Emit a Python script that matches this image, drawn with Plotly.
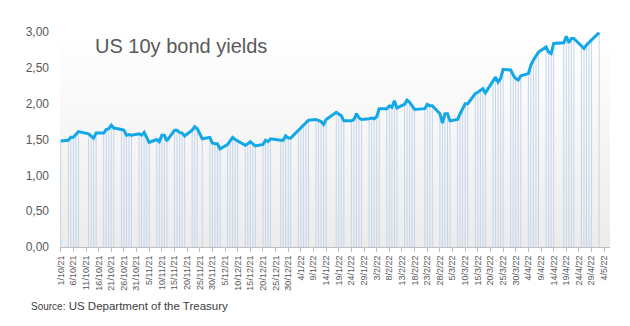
import plotly.graph_objects as go

# US 10-year Treasury yield, daily closes (%)
dates = [
    "2021-10-01", "2021-10-04", "2021-10-05", "2021-10-06", "2021-10-07", "2021-10-08",
    "2021-10-12", "2021-10-13", "2021-10-14", "2021-10-15", "2021-10-18", "2021-10-19",
    "2021-10-20", "2021-10-21", "2021-10-22", "2021-10-25", "2021-10-26", "2021-10-27",
    "2021-10-28", "2021-10-29",
    "2021-11-01", "2021-11-02", "2021-11-03", "2021-11-04", "2021-11-05", "2021-11-08",
    "2021-11-09", "2021-11-10", "2021-11-11", "2021-11-12", "2021-11-15", "2021-11-16",
    "2021-11-17", "2021-11-18", "2021-11-19", "2021-11-22", "2021-11-23", "2021-11-24",
    "2021-11-26", "2021-11-29", "2021-11-30",
    "2021-12-01", "2021-12-02", "2021-12-03", "2021-12-06", "2021-12-07", "2021-12-08",
    "2021-12-09", "2021-12-10", "2021-12-13", "2021-12-14", "2021-12-15", "2021-12-16",
    "2021-12-17", "2021-12-20", "2021-12-21", "2021-12-22", "2021-12-23", "2021-12-27",
    "2021-12-28", "2021-12-29", "2021-12-30", "2021-12-31",
    "2022-01-03", "2022-01-04", "2022-01-05", "2022-01-06", "2022-01-07", "2022-01-10",
    "2022-01-11", "2022-01-12", "2022-01-13", "2022-01-14", "2022-01-18", "2022-01-19",
    "2022-01-20", "2022-01-21", "2022-01-24", "2022-01-25", "2022-01-26", "2022-01-27",
    "2022-01-28", "2022-01-31",
    "2022-02-01", "2022-02-02", "2022-02-03", "2022-02-04", "2022-02-07", "2022-02-08",
    "2022-02-09", "2022-02-10", "2022-02-11", "2022-02-14", "2022-02-15", "2022-02-16",
    "2022-02-17", "2022-02-18", "2022-02-22", "2022-02-23", "2022-02-24", "2022-02-25",
    "2022-02-28",
    "2022-03-01", "2022-03-02", "2022-03-03", "2022-03-04", "2022-03-07", "2022-03-08",
    "2022-03-09", "2022-03-10", "2022-03-11", "2022-03-14", "2022-03-15", "2022-03-16",
    "2022-03-17", "2022-03-18", "2022-03-21", "2022-03-22", "2022-03-23", "2022-03-24",
    "2022-03-25", "2022-03-28", "2022-03-29", "2022-03-30", "2022-03-31",
    "2022-04-01", "2022-04-04", "2022-04-05", "2022-04-06", "2022-04-07", "2022-04-08",
    "2022-04-11", "2022-04-12", "2022-04-13", "2022-04-14", "2022-04-18", "2022-04-19",
    "2022-04-20", "2022-04-21", "2022-04-22", "2022-04-25", "2022-04-26", "2022-04-27",
    "2022-04-28", "2022-04-29",
    "2022-05-02",
]

yields = [
    1.48, 1.49, 1.53, 1.53, 1.57, 1.61,
    1.58, 1.55, 1.52, 1.59, 1.59, 1.64,
    1.65, 1.70, 1.66, 1.64, 1.63, 1.56,
    1.57, 1.56,
    1.58, 1.56, 1.60, 1.53, 1.46, 1.50,
    1.47, 1.56, 1.56, 1.48, 1.63, 1.63,
    1.60, 1.59, 1.55, 1.63, 1.68, 1.65,
    1.51, 1.53, 1.45,
    1.44, 1.44, 1.37, 1.43, 1.48, 1.53,
    1.50, 1.48, 1.42, 1.44, 1.47, 1.44,
    1.41, 1.43, 1.49, 1.47, 1.51, 1.49,
    1.49, 1.55, 1.52, 1.52,
    1.63, 1.66, 1.70, 1.73, 1.77, 1.78,
    1.76, 1.75, 1.71, 1.78, 1.88, 1.85,
    1.83, 1.76, 1.76, 1.78, 1.86, 1.80,
    1.78, 1.79,
    1.80, 1.79, 1.82, 1.93, 1.93, 1.97,
    1.95, 2.04, 1.94, 1.99, 2.05, 2.02,
    1.97, 1.92, 1.93, 1.99, 1.97, 1.97,
    1.86,
    1.73, 1.86, 1.86, 1.76, 1.78, 1.86,
    1.93, 2.00, 2.00, 2.14, 2.16, 2.19,
    2.21, 2.15, 2.32, 2.37, 2.30, 2.35,
    2.48, 2.47, 2.40, 2.35, 2.33,
    2.39, 2.42, 2.54, 2.61, 2.66, 2.72,
    2.79, 2.72, 2.70, 2.84, 2.85, 2.94,
    2.85, 2.91, 2.91, 2.81, 2.77, 2.82,
    2.85, 2.89,
    2.99,
]

# date-axis ticks, every five days
tick_dates = [
    "2021-10-01", "2021-10-06", "2021-10-11", "2021-10-16", "2021-10-21", "2021-10-26",
    "2021-10-31", "2021-11-05", "2021-11-10", "2021-11-15", "2021-11-20", "2021-11-25",
    "2021-11-30", "2021-12-05", "2021-12-10", "2021-12-15", "2021-12-20", "2021-12-25",
    "2021-12-30", "2022-01-04", "2022-01-09", "2022-01-14", "2022-01-19", "2022-01-24",
    "2022-01-29", "2022-02-03", "2022-02-08", "2022-02-13", "2022-02-18", "2022-02-23",
    "2022-02-28", "2022-03-05", "2022-03-10", "2022-03-15", "2022-03-20", "2022-03-25",
    "2022-03-30", "2022-04-04", "2022-04-09", "2022-04-14", "2022-04-19", "2022-04-24",
    "2022-04-29", "2022-05-04",
]
tick_labels = [
    "1/10/21", "6/10/21", "11/10/21", "16/10/21", "21/10/21", "26/10/21",
    "31/10/21", "5/11/21", "10/11/21", "15/11/21", "20/11/21", "25/11/21",
    "30/11/21", "5/12/21", "10/12/21", "15/12/21", "20/12/21", "25/12/21",
    "30/12/21", "4/1/22", "9/1/22", "14/1/22", "19/1/22", "24/1/22",
    "29/1/22", "3/2/22", "8/2/22", "13/2/22", "18/2/22", "23/2/22",
    "28/2/22", "5/3/22", "10/3/22", "15/3/22", "20/3/22", "25/3/22",
    "30/3/22", "4/4/22", "9/4/22", "14/4/22", "19/4/22", "24/4/22",
    "29/4/22", "4/5/22",
]
y_ticks = [0, 0.5, 1.0, 1.5, 2.0, 2.5, 3.0]

x_range = ["2021-09-30 17:00", "2022-05-06 07:00"]
y_range = [0, 3]

fig = go.Figure()

# plot-area background: soft vertical gradient, grey at the bottom
fig.add_trace(go.Scatter(
    x=[x_range[0], x_range[1], x_range[1], x_range[0], x_range[0]],
    y=[y_range[0], y_range[0], y_range[1], y_range[1], y_range[0]],
    mode="lines", line=dict(width=0), fill="toself",
    fillgradient=dict(type="vertical",
                      colorscale=[[0, "#ececec"], [1, "#ffffff"]]),
    hoverinfo="skip", showlegend=False,
))

# drop lines from each observation down to the axis
drop_x, drop_y = [], []
for d, v in zip(dates, yields):
    drop_x += [d, d, None]
    drop_y += [0, v, None]
fig.add_trace(go.Scatter(
    x=drop_x, y=drop_y, mode="lines",
    line=dict(color="#c4d5ea", width=1),
    hoverinfo="skip", showlegend=False,
))

# the yield line
fig.add_trace(go.Scatter(
    x=dates, y=yields, mode="lines",
    line=dict(color="#12a8e8", width=3),
    showlegend=False,
))

fig.update_layout(
    width=630, height=326,
    margin=dict(l=60, r=20, t=32, b=79),
    paper_bgcolor="white", plot_bgcolor="white",
    separators=", ",
    font=dict(family="Liberation Sans, Arial, sans-serif", color="#595959"),
    xaxis=dict(
        type="date", range=x_range,
        tickmode="array", tickvals=tick_dates, ticktext=tick_labels,
        tickangle=-90, tickfont=dict(size=9, color="#595959"),
        ticks="outside", ticklen=4, tickcolor="#bfbfbf",
        showline=True, linecolor="#bfbfbf", linewidth=1,
        showgrid=False, zeroline=False,
    ),
    yaxis=dict(
        range=y_range, tickmode="array", tickvals=y_ticks,
        tickformat=".2f", tickfont=dict(size=12, color="#595959"),
        showgrid=False, zeroline=False, showline=False, ticks="",
        ticklabelstandoff=10,
    ),
    annotations=[
        dict(text="US 10y bond yields", xref="paper", yref="paper",
             x=0.06, y=0.935, xanchor="left", yanchor="middle",
             showarrow=False, font=dict(size=20, color="#595959")),
        dict(text="<span style='font-size:10px'>Source:</span> US Department of the Treasury",
             xref="paper", yref="paper", x=-0.056, y=-0.274,
             xanchor="left", yanchor="middle", showarrow=False,
             font=dict(size=11.5, color="#404040")),
    ],
)

fig.write_html("out.html")
